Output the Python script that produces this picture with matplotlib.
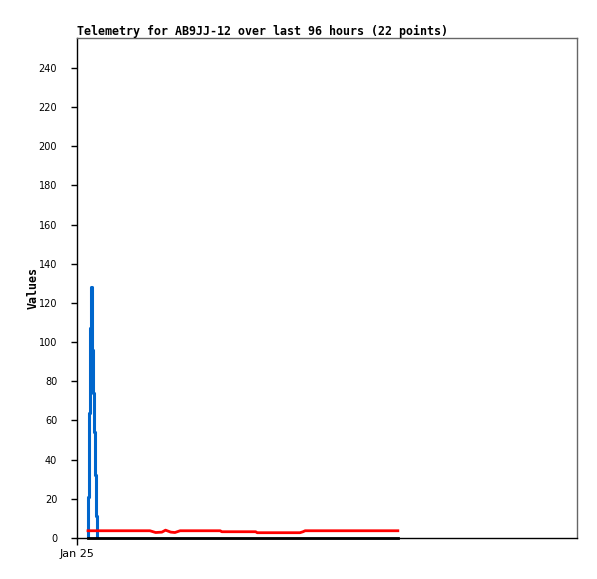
import matplotlib
matplotlib.use("Agg")
import matplotlib.pyplot as plt

W, H = 597, 579
# time axis in hours after Jan 25 00:00 (axis spans 96 hours)
x_max_hours = 96.0
y_max = 255.3

blue_t = [2.05, 2.05, 2.30, 2.46, 2.63, 2.83, 2.94, 3.07, 3.20, 3.46, 3.71, 3.84]
blue_v = [0, 21, 64, 107, 128, 117, 96, 74, 54, 32, 11, 0]

red_t = [2.11, 14.0, 15.1, 16.3, 17.0, 18.0, 18.8, 19.8, 27.5, 27.8, 34.3, 34.6, 42.8, 43.4, 43.8, 61.6]
red_v = [3.7, 3.7, 2.8, 3.0, 4.0, 3.0, 2.8, 3.7, 3.7, 3.2, 3.2, 2.7, 2.7, 3.2, 3.7, 3.7]

black_t = [2.11, 61.6]
black_v = [0, 0]

yticks = list(range(0, 241, 20))
xtick_pos = [0]
xtick_labels = ["Jan 25"]

fig = plt.figure(figsize=(W / 100, H / 100), dpi=100)
ax = fig.add_axes([77 / W, (H - 538) / H, 500 / W, 500 / H])

ax.step(blue_t, blue_v, where="post", color="#0066cc", lw=2.2)
ax.plot(red_t, red_v, color="#ff0000", lw=2.0)
ax.plot(black_t, black_v, color="#000000", lw=2.0, clip_on=False, zorder=3)

ax.set_xlim(0, x_max_hours)
ax.set_ylim(0, y_max)
ax.set_yticks(yticks)
ax.set_yticklabels([str(v) for v in yticks], fontsize=7, family="DejaVu Sans")
ax.set_xticks(xtick_pos)
ax.set_xticklabels(xtick_labels, fontsize=8, family="DejaVu Sans")
ax.tick_params(axis="y", direction="out", length=4.3, width=1, pad=10)
ax.tick_params(axis="x", direction="out", length=5, width=1, pad=3)

for s in ["left", "bottom"]:
    ax.spines[s].set_color("black")
    ax.spines[s].set_linewidth(1)
for s in ["top", "right"]:
    ax.spines[s].set_color("#666666")
    ax.spines[s].set_linewidth(1)

ax.set_ylabel("Values", fontsize=8.4, family="DejaVu Sans Mono", fontweight="bold", labelpad=-1)
fig.text(77 / W, 1 - 31 / H, "Telemetry for AB9JJ-12 over last 96 hours (22 points)",
         fontsize=8.4, family="DejaVu Sans Mono", fontweight="bold", ha="left", va="center")

fig.savefig("out.png", dpi=100)
